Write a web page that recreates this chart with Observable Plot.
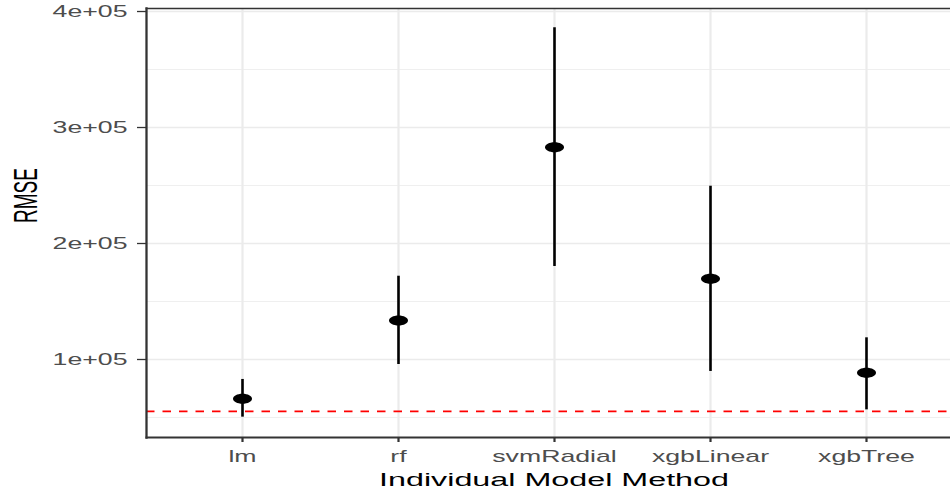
<!DOCTYPE html>
<html>
<head>
<meta charset="utf-8">
<script src="https://cdn.jsdelivr.net/npm/d3@7"></script>
<script src="https://cdn.jsdelivr.net/npm/@observablehq/plot@0.6"></script>
<style>
  html, body { margin: 0; padding: 0; background: #fff; overflow: hidden; }
</style>
</head>
<body>
<div id="chart"></div>
<script>
// ---- data ----
const methods  = ["lm", "rf", "svmRadial", "xgbLinear", "xgbTree"];
const rmseMean = [66100, 133600, 283000, 169600, 88500];
const rmseLow  = [50300,  95700, 180200,  89700, 56600];
const rmseHigh = [82800, 171800, 386000, 249400, 118700];
const baselineRMSE = [55200];
const yTicks = [100000, 200000, 300000, 400000];
const yMinorTicks = [50000, 150000, 250000, 350000];
const yTickLabels = ["1e+05", "2e+05", "3e+05", "4e+05"];
const xTitle = ["Individual Model Method"];
const yTitle = ["RMSE"];

const rows = methods.map((m, i) => ({method: m, mean: rmseMean[i], lo: rmseLow[i], hi: rmseHigh[i]}));

// the reference is horizontally stretched: text and points are wider than tall
const SX = 1.7;

const ellipse = {
  draw(ctx, size) {
    const r = Math.sqrt(size / Math.PI);
    const rx = r * 1.9, ry = r, k = 0.5523;
    ctx.moveTo(rx, 0);
    ctx.bezierCurveTo(rx, ry * k, rx * k, ry, 0, ry);
    ctx.bezierCurveTo(-rx * k, ry, -rx, ry * k, -rx, 0);
    ctx.bezierCurveTo(-rx, -ry * k, -rx * k, -ry, 0, -ry);
    ctx.bezierCurveTo(rx * k, -ry, rx, -ry * k, rx, 0);
    ctx.closePath();
  }
};

const chart = Plot.plot({
  width: 950,
  height: 493,
  marginLeft: 146,
  marginRight: -11,
  marginTop: 8,
  marginBottom: 56,
  style: {fontFamily: "'Liberation Sans', Arial, sans-serif", background: "white", overflow: "hidden"},
  x: {type: "point", domain: methods, padding: 0.6, axis: null},
  y: {domain: [32760, 402600], axis: null},
  marks: [
    Plot.gridY(yMinorTicks, {stroke: "#EBEBEB", strokeOpacity: 1, strokeWidth: 0.8}),
    Plot.gridY(yTicks, {stroke: "#EBEBEB", strokeOpacity: 1, strokeWidth: 1.3}),
    Plot.gridX(methods, {stroke: "#EBEBEB", strokeOpacity: 1, strokeWidth: 2.2}),
    Plot.ruleY(baselineRMSE, {stroke: "#FF0000", strokeWidth: 1.7, strokeDasharray: "8.5,8"}),
    Plot.ruleX(rows, {x: "method", y1: "lo", y2: "hi", stroke: "black", strokeWidth: 2.6}),
    Plot.dot(rows, {x: "method", y: "mean", r: 5, symbol: ellipse, fill: "black", stroke: "none"}),
    Plot.frame({anchor: "top", stroke: "#333333", strokeWidth: 1.6}),
    Plot.frame({anchor: "bottom", stroke: "#333333", strokeWidth: 2}),
    Plot.frame({anchor: "left", stroke: "#333333", strokeWidth: 2.3}),
    Plot.axisY({
      ticks: yTicks,
      tickFormat: (d) => yTickLabels[yTicks.indexOf(d)],
      tickSize: 9, tickPadding: 10,
      stroke: "#333333", strokeWidth: 1.3,
      fill: "#4D4D4D", fontSize: 15.7, label: null
    }),
    Plot.axisX({
      tickSize: 5, tickPadding: 8.4,
      stroke: "#333333", strokeWidth: 2.2,
      fill: "#4D4D4D", fontSize: 15.7, label: null
    }),
    Plot.text(xTitle, {text: (d) => d, frameAnchor: "bottom", dy: 42, lineAnchor: "middle", fontSize: 19, fill: "black"}),
    Plot.text(yTitle, {text: (d) => d, frameAnchor: "left", dx: -119.5, rotate: -90, lineAnchor: "middle", fontSize: 19, fill: "black"})
  ]
});

// stretch every text horizontally around its anchor point
chart.querySelectorAll("text").forEach((t) => {
  const tl = t.transform.baseVal.consolidate();
  const xs = t.getAttribute("x"), ys = t.getAttribute("y");
  const x0 = xs && !/em/.test(xs) ? parseFloat(xs) || 0 : 0;
  const y0 = ys && !/em/.test(ys) ? parseFloat(ys) || 0 : 0;
  let ax = x0;
  if (tl) { const m = tl.matrix; ax = m.a * x0 + m.c * y0 + m.e; }
  const g = document.createElementNS("http://www.w3.org/2000/svg", "g");
  g.setAttribute("transform", `translate(${ax},0) scale(${SX},1) translate(${-ax},0)`);
  t.parentNode.insertBefore(g, t);
  g.appendChild(t);
});

document.getElementById("chart").appendChild(chart);
</script>
</body>
</html>
